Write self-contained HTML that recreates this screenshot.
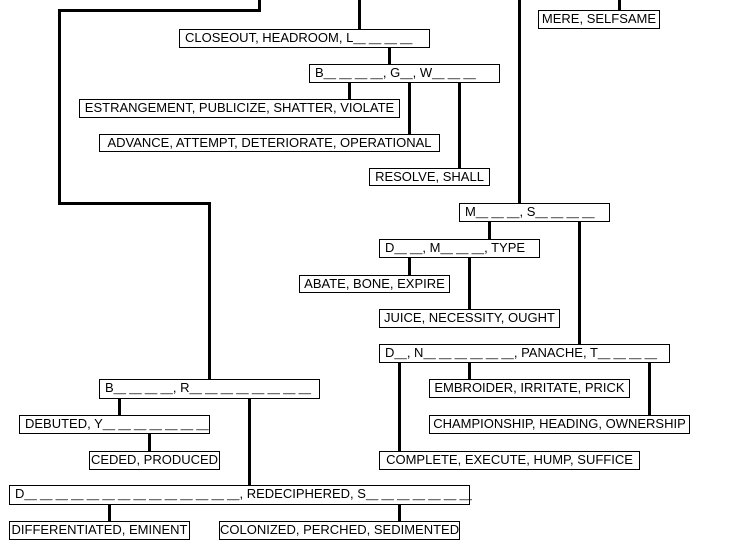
<!DOCTYPE html>
<html><head><style>
body{margin:0;width:729px;height:548px;background:#fff;position:relative;overflow:hidden;font-family:"Liberation Sans",sans-serif;}
.b{position:absolute;box-sizing:border-box;border:1px solid #000;background:#fff;font-size:13px;line-height:16px;text-align:center;white-space:nowrap;overflow:visible;}
.l{text-align:left;padding-left:5px;}
.u{font-size:11px;letter-spacing:0.1px;}
.v{position:absolute;width:3px;background:#000;}
.h{position:absolute;height:3px;background:#000;}
</style></head><body>
<div class="v" style="left:258px;top:0;height:12px"></div>
<div class="h" style="left:58px;top:9px;width:203px"></div>
<div class="v" style="left:58px;top:9px;height:196px"></div>
<div class="h" style="left:58px;top:202px;width:153px"></div>
<div class="v" style="left:208px;top:202px;height:178px"></div>
<div class="v" style="left:358px;top:0;height:30px"></div>
<div class="v" style="left:388px;top:46px;height:19px"></div>
<div class="v" style="left:348px;top:82px;height:18px"></div>
<div class="v" style="left:408px;top:82px;height:53px"></div>
<div class="v" style="left:458px;top:82px;height:87px"></div>
<div class="v" style="left:518px;top:0;height:204px"></div>
<div class="v" style="left:618px;top:0;height:11px"></div>
<div class="v" style="left:488px;top:220px;height:20px"></div>
<div class="v" style="left:578px;top:220px;height:125px"></div>
<div class="v" style="left:408px;top:256px;height:20px"></div>
<div class="v" style="left:468px;top:256px;height:54px"></div>
<div class="v" style="left:468px;top:361px;height:19px"></div>
<div class="v" style="left:648px;top:361px;height:55px"></div>
<div class="v" style="left:398px;top:361px;height:91px"></div>
<div class="v" style="left:118px;top:397px;height:19px"></div>
<div class="v" style="left:248px;top:397px;height:89px"></div>
<div class="v" style="left:148px;top:432px;height:20px"></div>
<div class="v" style="left:108px;top:503px;height:19px"></div>
<div class="v" style="left:398px;top:503px;height:19px"></div>

<div class="b l" style="left:179px;top:29px;width:251px;height:19px">CLOSEOUT, HEADROOM, L<span class="u">__ __ __ __</span></div>
<div class="b l" style="left:309px;top:64px;width:191px;height:19px">B<span class="u">__ __ __ __</span>, G<span class="u">__</span>, W<span class="u">__ __ __</span></div>
<div class="b" style="left:79px;top:99px;width:321px;height:19px">ESTRANGEMENT, PUBLICIZE, SHATTER, VIOLATE</div>
<div class="b" style="left:99px;top:134px;width:341px;height:18px">ADVANCE, ATTEMPT, DETERIORATE, OPERATIONAL</div>
<div class="b" style="left:369px;top:168px;width:121px;height:18px">RESOLVE, SHALL</div>
<div class="b" style="left:538px;top:10px;width:122px;height:19px">MERE, SELFSAME</div>
<div class="b l" style="left:459px;top:203px;width:151px;height:19px">M<span class="u">__ __ __</span>, S<span class="u">__ __ __ __</span></div>
<div class="b l" style="left:379px;top:239px;width:161px;height:19px">D<span class="u">__ __</span>, M<span class="u">__ __ __</span>, TYPE</div>
<div class="b" style="left:299px;top:275px;width:151px;height:18px">ABATE, BONE, EXPIRE</div>
<div class="b" style="left:379px;top:309px;width:181px;height:19px">JUICE, NECESSITY, OUGHT</div>
<div class="b l" style="left:379px;top:344px;width:291px;height:19px">D<span class="u">__</span>, N<span class="u">__ __ __ __ __ __</span>, PANACHE, T<span class="u">__ __ __ __</span></div>
<div class="b" style="left:429px;top:379px;width:201px;height:19px">EMBROIDER, IRRITATE, PRICK</div>
<div class="b" style="left:429px;top:415px;width:261px;height:19px">CHAMPIONSHIP, HEADING, OWNERSHIP</div>
<div class="b" style="left:379px;top:451px;width:261px;height:19px">COMPLETE, EXECUTE, HUMP, SUFFICE</div>
<div class="b l" style="left:99px;top:379px;width:221px;height:20px">B<span class="u">__ __ __ __</span>, R<span class="u">__ __ __ __ __ __ __ __</span></div>
<div class="b l" style="left:19px;top:415px;width:191px;height:19px">DEBUTED, Y<span class="u">__ __ __ __ __ __ __</span></div>
<div class="b" style="left:89px;top:451px;width:131px;height:19px">CEDED, PRODUCED</div>
<div class="b l" style="left:9px;top:485px;width:461px;height:20px">D<span class="u">__ __ __ __ __ __ __ __ __ __ __ __ __ __</span>, REDECIPHERED, S<span class="u">__ __ __ __ __ __ __</span></div>
<div class="b" style="left:9px;top:521px;width:181px;height:19px">DIFFERENTIATED, EMINENT</div>
<div class="b" style="left:219px;top:521px;width:241px;height:19px">COLONIZED, PERCHED, SEDIMENTED</div>
</body></html>
